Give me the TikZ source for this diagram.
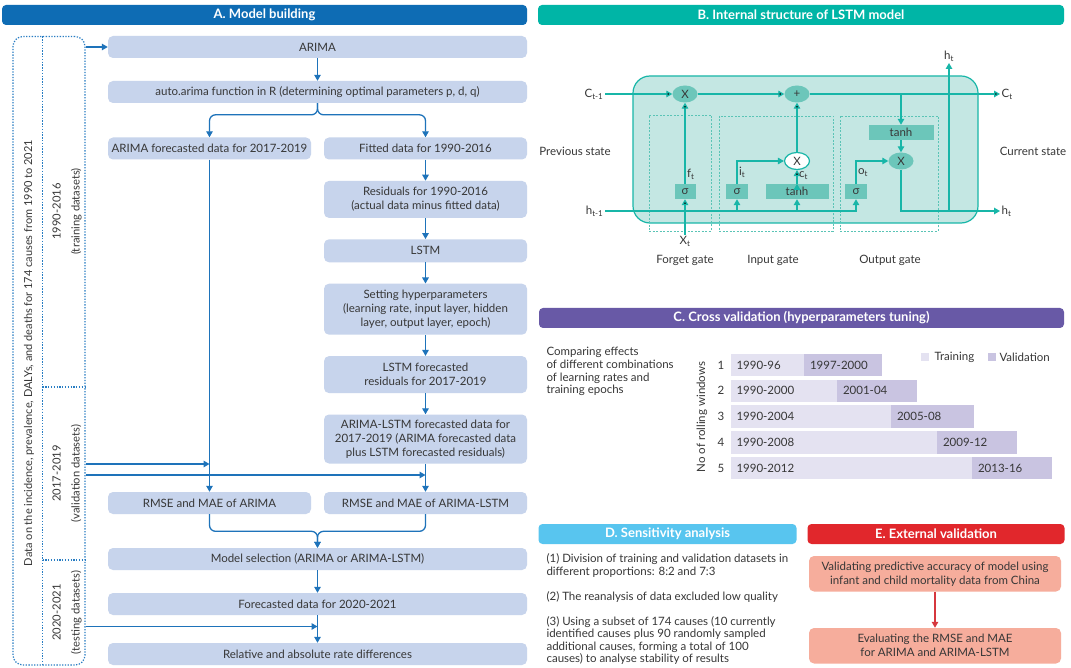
\documentclass[tikz,border=0pt]{standalone}
\usepackage{fontspec}
\setmainfont{Lato}
\usetikzlibrary{arrows.meta,shapes.geometric,positioning,calc}

\definecolor{txt}{RGB}{55,55,55}
\definecolor{blueA}{RGB}{14,108,180}
\definecolor{flowc}{RGB}{30,115,186}
\definecolor{aboxc}{RGB}{199,212,236}
\definecolor{dotc}{RGB}{40,125,195}
\definecolor{tealB}{RGB}{0,181,166}
\definecolor{cellc}{RGB}{24,182,168}
\definecolor{cellfill}{RGB}{196,231,227}
\definecolor{midc}{RGB}{108,198,186}
\definecolor{gatec}{RGB}{90,196,182}
\definecolor{purpleC}{RGB}{104,89,166}
\definecolor{trainc}{RGB}{228,226,241}
\definecolor{validc}{RGB}{201,196,225}
\definecolor{skyD}{RGB}{88,197,239}
\definecolor{redE}{RGB}{225,39,44}
\definecolor{eboxc}{RGB}{246,173,156}
\definecolor{eflowc}{RGB}{214,55,62}

\begin{document}
\begin{tikzpicture}[x=1pt,y=-1pt,>={Triangle[length=6pt,width=6.5pt]},font=\fontsize{11.5}{14}\selectfont,text=txt,node distance=21pt,
    header/.style={text=white,font=\fontsize{13}{14}\selectfont\bfseries,rounded corners=4pt,minimum height=20pt,inner sep=0pt},
    abox/.style={fill=aboxc,rounded corners=5pt,align=center,inner sep=0pt,minimum height=22pt},
    wide/.style={abox,minimum width=419pt},
    half/.style={abox,minimum width=203pt},
    flow/.style={->,draw=flowc,line width=1.3pt},
    dotline/.style={draw=dotc,line width=1.2pt,dash pattern=on 1.3pt off 1.5pt},
    side/.style={rotate=90,align=center,font=\fontsize{11.2}{19}\selectfont},
    cell/.style={draw=cellc,fill=cellfill,line width=1.2pt,rounded corners=17pt},
    gate/.style={draw=gatec,line width=0.8pt,dash pattern=on 2pt off 1.5pt},
    mul/.style={ellipse,fill=midc,minimum width=25pt,minimum height=17pt,inner sep=0pt},
    act/.style={fill=midc,minimum height=15pt,inner sep=0pt},
    lstm/.style={->,draw=cellc,line width=1.3pt},
    lbl/.style={inner sep=1.5pt},
    ebox/.style={fill=eboxc,rounded corners=5pt,align=center,minimum width=252pt,minimum height=35.5pt,inner sep=0pt},
    eflow/.style={->,draw=eflowc,line width=1.3pt}]

    \path[use as bounding box,fill=white] (0,0) rectangle (1071,668);

    \node[header,fill=blueA,minimum width=525pt] (hdA) at (264.5,15) {A. Model building};
    \node[header,fill=tealB,minimum width=526pt] (hdB) at (801,15) {B. Internal structure of LSTM model};
    \node[header,fill=purpleC,minimum width=525pt] (hdC) at (801.5,318) {C. Cross validation (hyperparameters tuning)};
    \node[header,fill=skyD,minimum width=258pt] (hdD) at (667.5,534) {D. Sensitivity analysis};
    \node[header,fill=redE,minimum width=257pt] (hdE) at (936,534) {E. External validation};

    \node[draw=dotc,dotline,rounded corners=10pt,minimum width=72pt,minimum height=628.5pt] (data) at (49,350.75) {};
    \draw[dotline] (42.5,36.5) -- (42.5,665);
    \draw[dotline] (42.5,387) -- (85,387);
    \draw[dotline] (42.5,560) -- (85,560);
    \node[rotate=90,font=\fontsize{11}{14}\selectfont] (dtxt) at (29,353) {Data on the incidence, prevalence, DALYs, and deaths for 174 causes from 1990 to 2021};
    \node[side] (trn) at (67,211.5) {1990-2016\\(training datasets)};
    \node[side] (val) at (67,473.5) {2017-2019\\(validation datasets)};
    \node[side] (tst) at (67,612.5) {2020-2021\\(testing datasets)};

    \node[wide] (arima) at (317.5,47) {ARIMA};
    \node[wide] (auto) at (317.5,92) {auto.arima function in R (determining optimal parameters p, d, q)};
    \node[half] (afc) at (209.5,148.5) {ARIMA forecasted data for 2017-2019};
    \node[half] (fit) at (425.5,148.5) {Fitted data for 1990-2016};
    \node[half,minimum height=37pt] (res) [below=of fit] {Residuals for 1990-2016\\(actual data minus fitted data)};
    \node[half,minimum height=23pt] (lstm) [below=of res] {LSTM};
    \node[half,minimum height=51pt] (hyp) [below=of lstm] {Setting hyperparameters\\(learning rate, input layer, hidden\\layer, output layer, epoch)};
    \node[half,minimum height=37pt] (lfc) [below=of hyp] {LSTM forecasted\\residuals for 2017-2019};
    \node[half,minimum height=49pt] (alfc) [below=of lfc] {ARIMA-LSTM forecasted data for\\2017-2019 (ARIMA forecasted data\\plus LSTM forecasted residuals)};
    \node[half] (rmsea) at (209.5,503) {RMSE and MAE of ARIMA};
    \node[half] (rmseal) at (425.5,503) {RMSE and MAE of ARIMA-LSTM};
    \node[wide] (sel) at (317.5,559) {Model selection (ARIMA or ARIMA-LSTM)};
    \node[wide] (fut) at (317.5,604) {Forecasted data for 2020-2021};
    \node[wide] (diff) at (317.5,654) {Relative and absolute rate differences};

    \draw[flow] (arima) -- (auto);
    \draw[flow,rounded corners=6pt] (auto.south) |- ([yshift=22.5pt]afc.north) -- (afc.north);
    \draw[flow,rounded corners=6pt] (auto.south) |- ([yshift=22.5pt]fit.north) -- (fit.north);
    \draw[flow] (afc) -- (rmsea);
    \foreach \a/\b in {fit/res,res/lstm,lstm/hyp,hyp/lfc,lfc/alfc,alfc/rmseal,sel/fut,fut/diff}
        \draw[flow] (\a) -- (\b);
    \draw[flow,rounded corners=6pt] (rmsea.south) |- ([yshift=16.5pt]sel.north) -- (sel.north);
    \draw[flow,rounded corners=6pt] (rmseal.south) |- ([yshift=16.5pt]sel.north) -- (sel.north);

    \coordinate (m1) at (209.5,464);
    \coordinate (m2) at (425.5,475);
    \coordinate (m3) at (317.5,626.5);
    \draw[flow] (data.east |- arima) -- (arima);
    \foreach \m in {m1,m2,m3}
        \draw[flow] (data.east |- \m) -- (\m);

    \node[cell,minimum width=345pt,minimum height=147pt] (box) at (805.5,149.5) {};
    \node[gate,minimum width=62pt,minimum height=116pt] (fg) at (680,173) {};
    \node[gate,minimum width=114pt,minimum height=115pt] (ig) at (776,173.5) {};
    \node[gate,minimum width=98pt,minimum height=115pt] (og) at (889,173.5) {};

    \node[mul] (fx) at (685,94) {X};
    \node[mul] (plus) at (797,94) {+};
    \node[mul,fill=white,draw=cellc,line width=1.2pt] (ix) at (797,161) {X};
    \node[mul] (ox) at (901,161) {X};
    \node[act,minimum width=21pt] (sf) at (685,191.5) {σ};
    \node[act,minimum width=22pt] (si) at (737,191.5) {σ};
    \node[act,minimum width=63pt] (ti) at (797,191.5) {tanh};
    \node[act,minimum width=22pt] (so) at (856,191.5) {σ};
    \node[act,minimum width=65pt] (to) at (901,132.5) {tanh};

    \node[anchor=east,lbl] (cin) at (605,94) {C\textsubscript{t-1}};
    \node[anchor=east,lbl] (hin) at (605,211) {h\textsubscript{t-1}};
    \node[anchor=west,lbl] (cout) at (1000,94) {C\textsubscript{t}};
    \node[anchor=west,lbl] (hout) at (1000,211) {h\textsubscript{t}};
    \node[anchor=south,lbl] (htop) at (949,63) {h\textsubscript{t}};
    \node[anchor=north,lbl] (xt) at (685,235) {X\textsubscript{t}};
    \coordinate (cdrop) at (901,94);
    \coordinate (hup) at (949,211);

    \path[lstm]
        (cin) edge (fx)
        (fx) edge (plus)
        (plus) edge (cout)
        (xt) edge (sf)
        (sf) edge node[lbl,right,pos=0.12] {f\textsubscript{t}} (fx)
        (ti.north) edge node[lbl,anchor=west,pos=0.6] {c\textsubscript{t}} (ix.south)
        (ix) edge (plus)
    ;
    \draw[lstm] (si.south |- hin) -- (si.south);
    \draw[lstm] (ti.south |- hin) -- (ti.south);
    \draw[lstm] (cdrop) -- (to.north);
    \draw[lstm] (to.south) -- (ox.north);
    \draw[lstm] (hin) -| (so);
    \draw[lstm] (si) |- node[lbl,right,pos=0.25] {i\textsubscript{t}} (ix);
    \draw[lstm] (so) |- node[lbl,right,pos=0.25] {o\textsubscript{t}} (ox);
    \draw[lstm] (ox) |- (hout);
    \draw[lstm] (hup) -- (htop);

    \node (prev) at (575,151) {Previous state};
    \node (curr) at (1033,151) {Current state};
    \node (fgl) at (685,260) {Forget gate};
    \node (igl) at (773,260) {Input gate};
    \node (ogl) at (890,260) {Output gate};

    \node[anchor=north west,align=left,font=\fontsize{11.5}{12.6}\selectfont] (cmp) at (543,344) {Comparing effects\\of different combinations\\of learning rates and\\training epochs};
    \node[rotate=90] (axl) at (702,417) {No of rolling windows};
    \foreach \n/\te/\ve/\tl/\vl [evaluate=\n as \yy using {365+(\n-1)*25.8}] in
        {1/804/882/1990-96/1997-2000,2/837/917/1990-2000/2001-04,3/891/974/1990-2004/2005-08,4/937/1017/1990-2008/2009-12,5/972/1052/1990-2012/2013-16}{
        \fill[trainc] (731,\yy-11.25) rectangle (\te,\yy+11.25);
        \fill[validc] (\te,\yy-11.25) rectangle (\ve,\yy+11.25);
        \node (r\n) at (721,\yy) {\n};
        \node[anchor=west] (t\n) at (733,\yy) {\tl};
        \node[anchor=west] (v\n) at (\te+2.5,\yy) {\vl};
    }
    \fill[trainc] (921,353) rectangle (929,361);
    \node[anchor=west] (lgt) at (931,357) {Training};
    \fill[validc] (988,353) rectangle (996,361);
    \node[anchor=west] (lgv) at (996,357) {Validation};

    \node[anchor=north west,align=left,font=\fontsize{11.5}{13}\selectfont] (d1) at (543,550) {(1) Division of training and validation datasets in\\different proportions: 8:2 and 7:3};
    \node[anchor=north west,align=left] (d2) at (543,588) {(2) The reanalysis of data excluded low quality};
    \node[anchor=north west,align=left,font=\fontsize{11.5}{12.5}\selectfont] (d3) at (543,613) {(3) Using a subset of 174 causes (10 currently\\identified causes plus 90 randomly sampled\\additional causes, forming a total of 100\\causes) to analyse stability of results};

    \node[ebox] (e1) at (935,573.75) {Validating predictive accuracy of model using\\infant and child mortality data from China};
    \node[ebox] (e2) at (935,645.75) {Evaluating the RMSE and MAE\\for ARIMA and ARIMA-LSTM};
    \draw[eflow] (e1) -- (e2);

\end{tikzpicture}
\end{document}
